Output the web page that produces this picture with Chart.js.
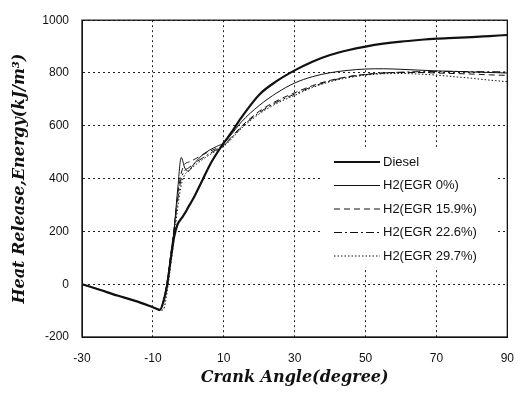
<!DOCTYPE html>
<html>
<head>
<meta charset="utf-8">
<script src="https://cdn.jsdelivr.net/npm/chart.js@4/dist/chart.umd.min.js"></script>
<style>
  html, body { margin: 0; padding: 0; background: #fff; }
  #wrap { width: 528px; height: 399px; position: relative; }
</style>
</head>
<body>
<div id="wrap"><canvas id="chart"></canvas></div>
<script>
// crank angle (degree), shared by every curve
const crankAngle = [-30, -25, -20, -15, -10, -8, -7, -6, -5, -4, -3, -2, -1, 0, 1, 2, 4, 6, 8, 10,
  12, 15, 20, 25, 30, 35, 40, 45, 50, 55, 60, 65, 70, 75, 80, 85, 90];

const diesel = [0, -21, -43, -63, -87, -97, -65, -5, 90, 180, 228, 248, 268, 292, 315, 340, 395, 450, 495, 535,
  572, 632, 718, 770, 810, 843, 868, 886, 900, 911, 919, 925, 930, 933, 936, 940, 944];

const h2Egr0 = [0, -21, -43, -63, -87, -97, -62, 5, 105, 210, 360, 480, 440, 428, 445, 462, 490, 508, 522, 535,
  565, 615, 677, 725, 762, 786, 801, 810, 815, 816, 814, 811, 808, 806, 804, 802, 800];

const h2Egr159 = [0, -21, -43, -63, -87, -97, -60, 8, 110, 215, 340, 420, 455, 462, 468, 475, 490, 503, 515, 528,
  555, 598, 655, 695, 725, 752, 772, 786, 795, 800, 802, 802, 800, 798, 796, 793, 791];

const h2Egr226 = [0, -21, -43, -63, -87, -97, -62, 0, 100, 205, 320, 400, 430, 440, 450, 460, 478, 495, 510, 525,
  552, 595, 650, 690, 720, 748, 770, 785, 794, 800, 803, 805, 806, 806, 805, 805, 804];

const h2Egr297 = [0, -21, -43, -63, -87, -100, -95, -30, 70, 175, 290, 375, 415, 428, 440, 452, 472, 490, 506, 522,
  548, 590, 645, 685, 715, 745, 767, 782, 792, 797, 798, 796, 792, 786, 780, 773, 767];

const seriesNames = ["Diesel", "H2(EGR 0%)", "H2(EGR 15.9%)", "H2(EGR 22.6%)", "H2(EGR 29.7%)"];
const xTicks = [-30, -10, 10, 30, 50, 70, 90];
const yTicks = [-200, 0, 200, 400, 600, 800, 1000];

function toPoints(values) {
  return values.map(function (v, i) { return { x: crankAngle[i], y: v }; });
}

function makeSet(label, values, width, dash) {
  return {
    label: label,
    data: toPoints(values),
    borderColor: "#111",
    borderWidth: width,
    borderDash: dash,
    pointRadius: 0,
    fill: false,
    cubicInterpolationMode: "monotone",
  };
}

// white legend box inside the plot, like the original figure
const boxLegend = {
  id: "boxLegend",
  afterDatasetsDraw: function (chart) {
    const ctx = chart.ctx;
    ctx.save();
    ctx.fillStyle = "#fff";
    ctx.fillRect(320, 147, 175, 120);
    ctx.font = "13px 'Liberation Sans', Arial, sans-serif";
    ctx.textBaseline = "middle";
    ctx.textAlign = "left";
    chart.data.datasets.forEach(function (ds, i) {
      const y = 162 + i * 23.5;
      ctx.strokeStyle = ds.borderColor;
      ctx.lineWidth = ds.borderWidth;
      ctx.setLineDash(ds.borderDash || []);
      ctx.beginPath();
      ctx.moveTo(334, y);
      ctx.lineTo(380, y);
      ctx.stroke();
      ctx.setLineDash([]);
      ctx.fillStyle = "#111";
      ctx.fillText(ds.label, 383, y);
    });
    ctx.restore();
  },
};

const frame = {
  id: "frame",
  afterDraw: function (chart) {
    const a = chart.chartArea;
    const ctx = chart.ctx;
    ctx.save();
    ctx.strokeStyle = "#111";
    ctx.lineWidth = 1.3;
    ctx.strokeRect(a.left, a.top, a.right - a.left, a.bottom - a.top);
    ctx.restore();
  },
};

const tickFont = { family: "'Liberation Sans', Arial, sans-serif", size: 12 };
const titleFont = { family: "'DejaVu Serif', serif", size: 16, weight: "bold", style: "italic" };
const plain = function (v) { return String(v); };

new Chart(document.getElementById("chart"), {
  type: "line",
  data: {
    datasets: [
      makeSet(seriesNames[0], diesel, 2.2, []),
      makeSet(seriesNames[1], h2Egr0, 1, []),
      makeSet(seriesNames[2], h2Egr159, 1, [6, 4]),
      makeSet(seriesNames[3], h2Egr226, 1, [8, 3, 2, 3]),
      makeSet(seriesNames[4], h2Egr297, 1, [1.5, 2]),
    ],
  },
  options: {
    responsive: true,
    maintainAspectRatio: false,
    animation: false,
    layout: { padding: { top: 10, right: 5, left: 0, bottom: 0 } },
    plugins: { legend: { display: false }, tooltip: { enabled: false } },
    scales: {
      x: {
        type: "linear",
        min: -30,
        max: 90,
        afterBuildTicks: function (s) { s.ticks = xTicks.map(function (v) { return { value: v }; }); },
        afterFit: function (s) { s.height = 62; },
        ticks: { color: "#111", font: tickFont, padding: 14, maxRotation: 0, callback: plain },
        grid: { color: "#222", lineWidth: 1, drawTicks: false },
        border: { display: true, color: "#111", dash: [2, 3] },
        title: { display: true, text: "Crank Angle(degree)", color: "#111", font: titleFont, padding: { top: 0, bottom: 12 } },
      },
      y: {
        min: -200,
        max: 1000,
        afterBuildTicks: function (s) { s.ticks = yTicks.map(function (v) { return { value: v }; }); },
        afterFit: function (s) { s.width = 82; },
        ticks: { color: "#111", font: tickFont, padding: 13, callback: plain },
        grid: { color: "#222", lineWidth: 1, drawTicks: false },
        border: { display: true, color: "#111", dash: [2, 3] },
        title: { display: true, text: "Heat Release,Energy(kJ/m³)", color: "#111", font: titleFont, padding: { top: 10, bottom: 0 } },
      },
    },
  },
  plugins: [boxLegend, frame],
});
</script>
</body>
</html>
